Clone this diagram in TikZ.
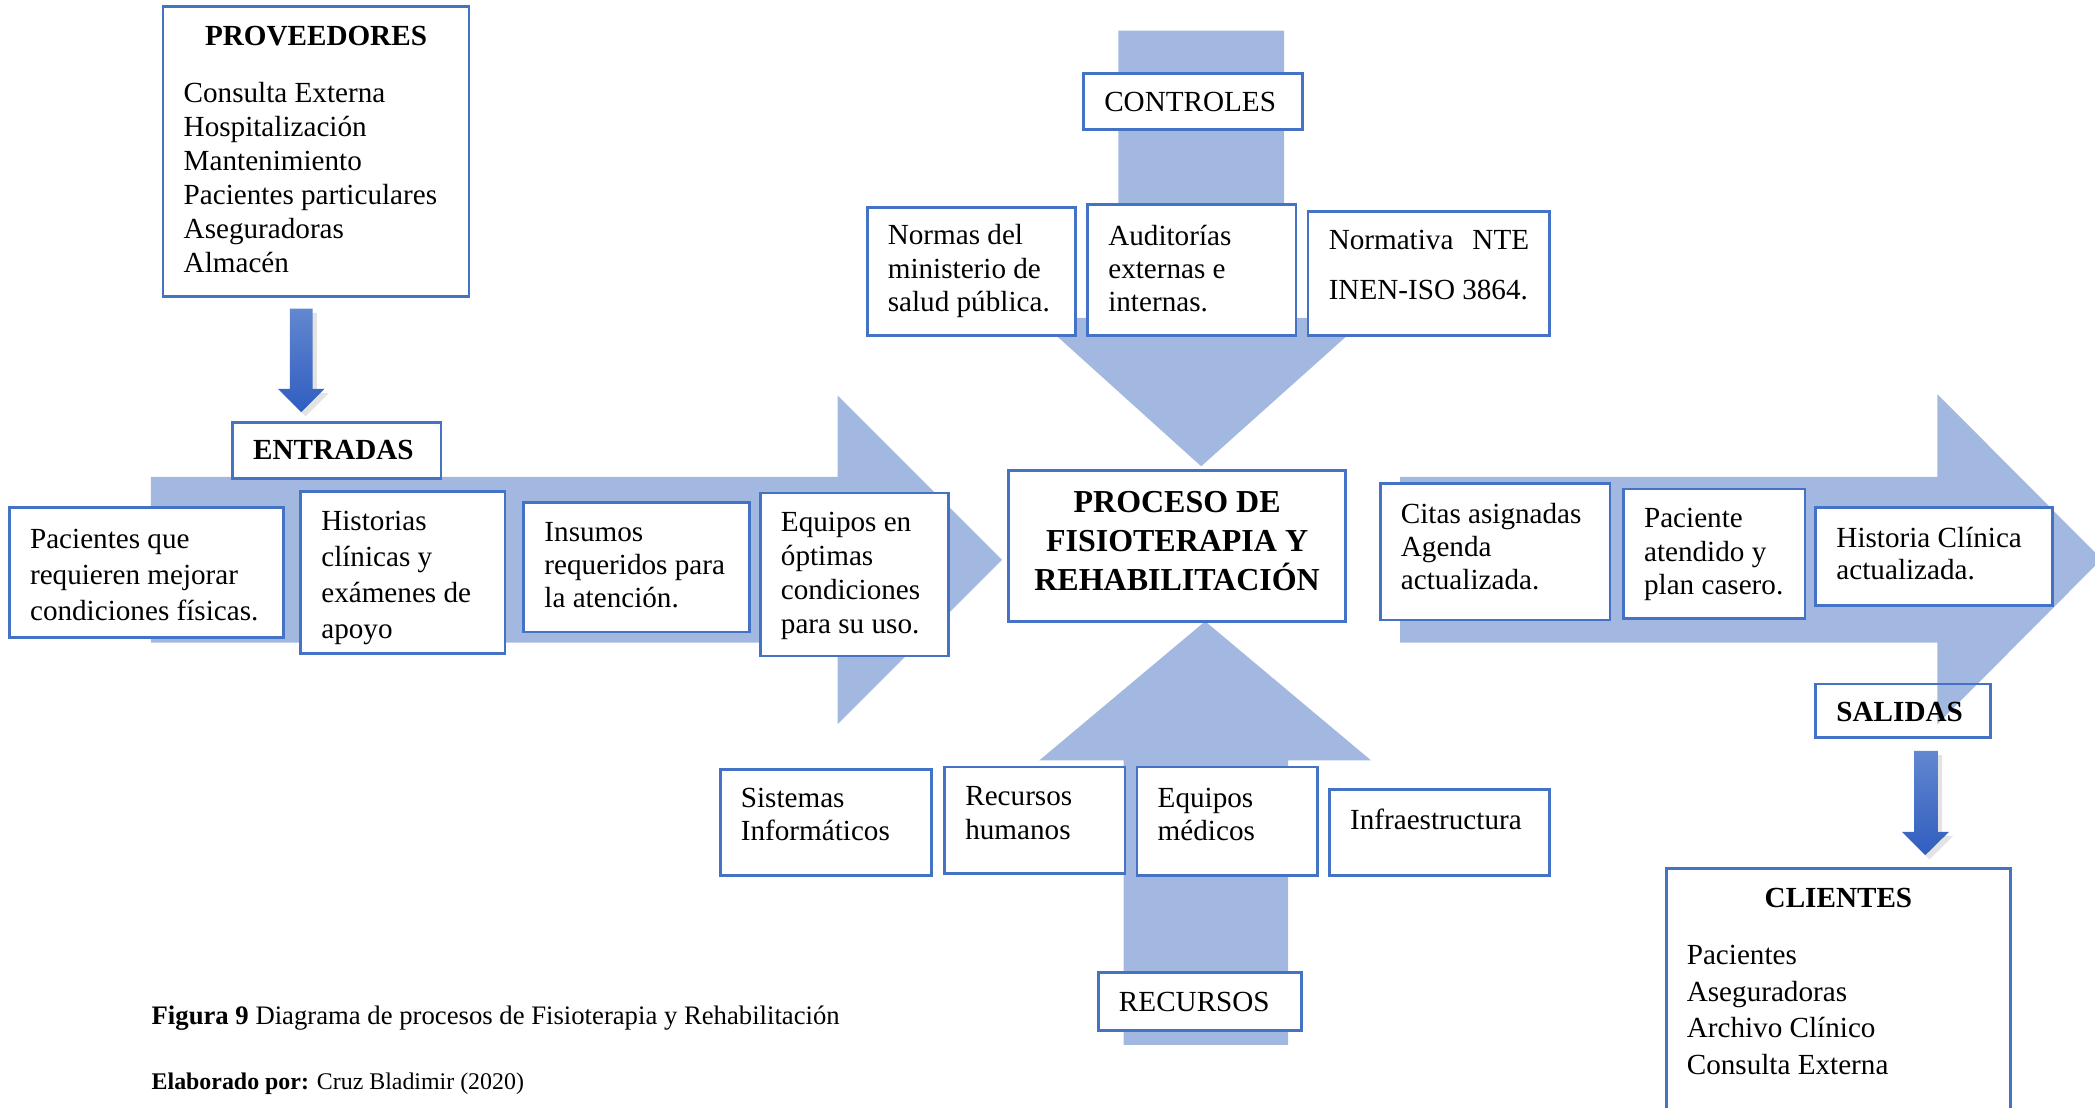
\documentclass[tikz,border=0pt]{standalone}
\usepackage{fontspec}
\setmainfont{Liberation Serif}
\usetikzlibrary{shadows}
\definecolor{bordc}{HTML}{4472C4}
\definecolor{bandc}{RGB}{162,184,224}
\definecolor{gradtop}{HTML}{6387D0}
\definecolor{gradbot}{HTML}{2F5EBF}
\newdimen\pxu \pxu=0.01336cm
\newcommand{\bodyfont}[1]{\fontsize{8.3pt}{#1pt}\selectfont}
% fixed-size text block, left aligned; #3 lifts the text by half its value
\newcommand{\boxtext}[4]{\parbox[c][#2\pxu][c]{#1\pxu}{\raggedright\leftskip=15.5\pxu\relax #4\par\vspace*{#3\pxu}}}
% fixed-size text block, centred
\newcommand{\ctrtext}[4]{\parbox[c][#2\pxu][c]{#1\pxu}{\centering #4\par\vspace*{#3\pxu}}}
\begin{document}
\begin{tikzpicture}[x=0.01336cm,y=-0.01336cm,
  box/.style={draw=bordc,line width=0.8pt,fill=white,inner sep=0pt,outer sep=0pt,anchor=north west,font=\bodyfont{9.5}},
  band/.style={fill=bandc,draw=none},
  feed/.style={top color=gradtop,bottom color=gradbot,draw=none,
    drop shadow={opacity=0.22,shadow xshift=1.2pt,shadow yshift=-1.2pt}}]
\useasboundingbox (0,0) rectangle (1568,829);
\clip (0,0) rectangle (1568,829);

% broad flow arrows
\path[band] (113,357) -- (627,357) -- (627,296) -- (750,419) -- (627,542) -- (627,481) -- (113,481) -- cycle;
\path[band] (1048,357) -- (1450,357) -- (1450,295) -- (1573,418.5) -- (1450,542) -- (1450,481) -- (1048,481) -- cycle;
\path[band] (837,23) -- (961,23) -- (961,238) -- (1023,238) -- (899,349) -- (776,238) -- (837,238) -- cycle;
\path[band] (841,782) -- (841,569) -- (778,569) -- (902,465) -- (1026,569) -- (964,569) -- (964,782) -- cycle;

% small feeder arrows
\path[feed] (217,231) -- (234,231) -- (234,291) -- (243,291) -- (225.5,308.5) -- (208,291) -- (217,291) -- cycle;
\path[feed] (1432.6,562) -- (1450.4,562) -- (1450.4,622.7) -- (1458.6,622.7) -- (1441,640) -- (1423.7,622.7) -- (1432.6,622.7) -- cycle;

% suppliers
\node[box,font=\bodyfont{9.65}] (prov) at (122,5) {\parbox[c][217\pxu][t]{229\pxu}{\vspace*{14.8\pxu}{\centering\bfseries PROVEEDORES\par}\vspace{17.4\pxu}\raggedright\leftskip=15.5\pxu Consulta Externa\\ Hospitalización\\ Mantenimiento\\ Pacientes particulares\\ Aseguradoras\\ Almacén}};

% inputs
\node[box] (entr) at (174,316) {\boxtext{156}{42}{0}{\bfseries ENTRADAS}};
\node[box,font=\bodyfont{10.3}] (pac) at (7,380) {\boxtext{205}{97}{-4}{Pacientes que\\ requieren mejorar\\ condiciones físicas.}};
\node[box,font=\bodyfont{10.3}] (hist) at (225,368) {\boxtext{153}{121}{-8}{Historias\\ clínicas y\\ exámenes de\\ apoyo}};
\node[box] (ins) at (392,376) {\boxtext{169}{97}{3}{Insumos\\ requeridos para\\ la atención.}};
\node[box,font=\bodyfont{9.6}] (equ) at (569,369) {\boxtext{141}{122}{-2}{Equipos en\\ óptimas\\ condiciones\\ para su uso.}};

% controls
\node[box] (ctrl) at (811,55) {\boxtext{164}{42}{0}{CONTROLES}};
\node[box] (norm) at (649,155) {\boxtext{156}{96}{0}{Normas del\\ ministerio de\\ salud pública.}};
\node[box] (aud) at (814,153) {\boxtext{156}{98}{2}{Auditorías\\ externas e\\ internas.}};
\node[box,font=\bodyfont{14.1}] (nte) at (979,158) {\boxtext{181}{93}{12}{\makebox[150\pxu]{Normativa\hfill NTE}\\ INEN-ISO 3864.}};

% process
\node[box,font=\fontsize{9.1pt}{11pt}\selectfont\bfseries] (proc) at (755,352) {\ctrtext{252}{113}{7}{PROCESO DE\\ FISIOTERAPIA Y\\ REHABILITACIÓN}};

% outputs
\node[box] (citas) at (1033,362) {\boxtext{172}{102}{8}{Citas asignadas\\ Agenda\\ actualizada.}};
\node[box] (patn) at (1215,366) {\boxtext{136}{97}{-1}{Paciente\\ atendido y\\ plan casero.}};
\node[box,font=\bodyfont{9.1}] (hcl) at (1359,380) {\boxtext{177}{73}{5}{Historia Clínica\\ actualizada.}};
\node[box,fill=none] (sal) at (1359,512) {\boxtext{131}{40}{-2}{\bfseries SALIDAS}};

% customers
\node[box,font=\bodyfont{10.4}] (cli) at (1247,650) {\parbox[c][185\pxu][t]{258\pxu}{\vspace*{14.5\pxu}{\centering\bfseries CLIENTES\par}\vspace{15.8\pxu}\raggedright\leftskip=15.5\pxu Pacientes\\ Aseguradoras\\ Archivo Clínico\\ Consulta Externa}};

% resources
\node[box] (sis) at (539,576) {\boxtext{158}{79}{12}{Sistemas\\ Informáticos}};
\node[box] (rhu) at (707,574) {\boxtext{135}{80}{11}{Recursos\\ humanos}};
\node[box] (emed) at (851,574) {\boxtext{135}{81}{10}{Equipos\\ médicos}};
\node[box] (inf) at (995,591) {\boxtext{165}{64}{20}{Infraestructura}};
\node[box] (rec) at (822,728) {\boxtext{152}{43}{-1}{RECURSOS}};

% caption
\node[anchor=west,inner sep=0pt,font=\fontsize{7.6pt}{9pt}\selectfont] (fig) at (113,762) {\textbf{Figura 9} Diagrama de procesos de Fisioterapia y Rehabilitación};
\node[anchor=west,inner sep=0pt,font=\fontsize{6.8pt}{8pt}\selectfont] (elab) at (113,811) {\textbf{Elaborado por:} Cruz Bladimir (2020)};
\end{tikzpicture}
\end{document}
